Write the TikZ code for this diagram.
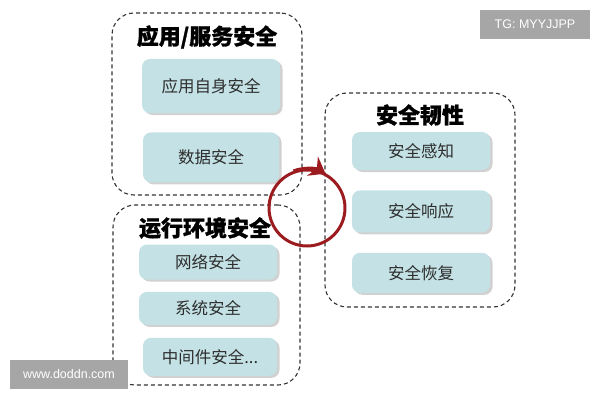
\documentclass[tikz,border=0pt]{standalone}
\usepackage{fontspec}
\usepackage{tikz}
\usetikzlibrary{shapes.geometric, arrows.meta, shadows}
\usetikzlibrary{positioning}
\newfontfamily\cjk{Noto Sans CJK SC}
\newfontfamily\cjktitle[BoldFeatures={FakeBold=1.2}]{Noto Sans CJK SC}
\newfontfamily\latin{Liberation Sans}
\definecolor{boxteal}{RGB}{196,226,229}
\definecolor{ringred}{RGB}{155,27,30}
\definecolor{textgrey}{RGB}{45,45,45}
\tikzstyle{groupframe} = [rectangle, rounded corners=22pt, draw=black!80, line width=1.1pt, dash pattern=on 4pt off 3pt]
\tikzstyle{grouptitle} = [font=\cjktitle\bfseries\fontsize{22}{22}\selectfont, text=black, inner sep=0pt]

\begin{document}
\begin{tikzpicture}[x=1pt, y=1pt,
itembox/.style={rectangle, rounded corners=8pt, fill=boxteal, minimum width=138pt, font=\cjk\fontsize{16.5}{16.5}\selectfont, text=textgrey, drop shadow={shadow xshift=2.5pt, shadow yshift=-2pt, fill=black!30, opacity=0.6}},
ringnode/.style={circle, draw=ringred, line width=3pt, minimum size=76pt, inner sep=0pt},
ringarrow/.style={line width=3pt, draw=ringred, -{Stealth[length=15pt 0, width=22pt 0, inset=5pt 0]}},
markbox/.style={rectangle, fill=black!35, text=white, font=\latin\fontsize{12.5}{12.5}\selectfont, minimum height=29pt},
]
\useasboundingbox (0,0) rectangle (600,400);

%Frames
\node[groupframe, minimum width=190pt, minimum height=182pt] (appframe) at (207,296) {};
\node[groupframe, minimum width=187pt, minimum height=180pt] (envframe) at (206.5,105) {};
\node[groupframe, minimum width=190pt, minimum height=214pt] (resframe) at (420,200) {};

%Nodes
\node[grouptitle]   (apptitle)   at (207,363)  {应用/服务安全};
\node[itembox, minimum height=54pt]  (appself)    at (211,314)  {应用自身安全};
\node[itembox, minimum width=136pt, minimum height=50pt]  (datasec)    [below=19pt of appself] {数据安全};

\node[grouptitle]   (envtitle)   at (205,172)  {运行环境安全};
\node[itembox, minimum height=35pt]  (netsec)     at (208,138)  {网络安全};
\node[itembox, minimum height=33pt]  (syssec)     [below=12pt of netsec]  {系统安全};
\node[itembox, minimum width=134pt, minimum height=38pt]  (midsec)     [below=12.5pt of syssec, xshift=2pt] {中间件安全...};

\node[grouptitle]   (restitle)   at (420,285)  {安全韧性};
\node[itembox, minimum height=38pt]  (perceive)   at (421,249)  {安全感知};
\node[itembox, minimum height=42pt]  (respond)    [below=20pt of perceive] {安全响应};
\node[itembox, minimum height=40pt]  (recover)    [below=20pt of respond]  {安全恢复};

\node[ringnode]     (cycle)      at (307,192)  {};

\node[markbox, minimum width=110pt] (tgmark)  at (535,375.5) {TG: MYYJJPP};
\node[markbox, minimum width=118pt] (webmark) at (69,25.5)   {www.doddn.com};

%Lines
\draw[ringarrow] (cycle.110) arc[start angle=110, end angle=60, radius=38pt];

\end{tikzpicture}
\end{document}
